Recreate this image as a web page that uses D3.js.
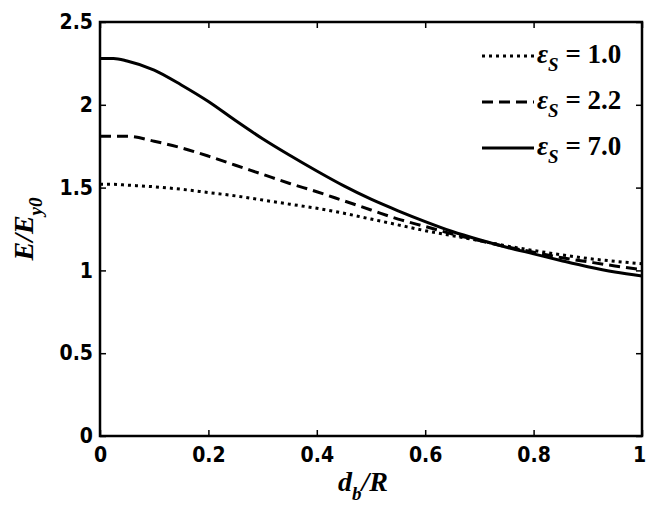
<!DOCTYPE html>
<meta charset="utf-8">
<title>E/Ey0 vs db/R</title>
<style>
body { margin: 0; background: #fff; }
svg { display: block; }
.tick text { font-family: "Liberation Sans Narrow", "DejaVu Sans Condensed", "Liberation Sans", Arial, sans-serif; font-weight: bold; font-size: 21px; fill: #000; }
.tick line { stroke: #000; stroke-width: 1.5; }
.lbl { font-family: "Liberation Serif", "Times New Roman", serif; font-weight: bold; font-style: italic; fill: #000; }
.leg { font-family: "Liberation Serif", "Times New Roman", serif; font-weight: bold; font-size: 27px; fill: #000; }
.curve { fill: none; stroke: #000; stroke-width: 3; }
</style>
<body>
<svg width="647" height="508"></svg>
<script src="https://d3js.org/d3.v7.min.js"></script>
<script>

// data
var xVals = [0, 0.025, 0.05, 0.1, 0.15, 0.2, 0.25, 0.3, 0.35, 0.4, 0.45, 0.5, 0.55, 0.6, 0.65, 0.7, 0.75, 0.8, 0.85, 0.9, 0.95, 1.0];
var eps10 = [1.52, 1.52, 1.515, 1.505, 1.49, 1.47, 1.45, 1.425, 1.40, 1.375, 1.345, 1.31, 1.275, 1.24, 1.21, 1.18, 1.148, 1.12, 1.095, 1.072, 1.055, 1.04];
var eps22 = [1.81, 1.81, 1.81, 1.78, 1.74, 1.69, 1.635, 1.58, 1.525, 1.475, 1.42, 1.365, 1.31, 1.265, 1.22, 1.18, 1.143, 1.11, 1.078, 1.052, 1.027, 1.005];
var eps70 = [2.28, 2.28, 2.265, 2.21, 2.12, 2.02, 1.905, 1.795, 1.695, 1.60, 1.51, 1.43, 1.36, 1.295, 1.235, 1.185, 1.14, 1.10, 1.06, 1.022, 0.99, 0.966];
var seriesNames = ["1.0", "2.2", "7.0"];
var xTicks = [0, 0.2, 0.4, 0.6, 0.8, 1];
var xTickLabels = ["0", "0.2", "0.4", "0.6", "0.8", "1"];
var yTicks = [0, 0.5, 1, 1.5, 2, 2.5];
var yTickLabels = ["0", "0.5", "1", "1.5", "2", "2.5"];

var svg = d3.select("svg"),
    margin = {top: 22, right: 5, bottom: 72, left: 100},
    width = +svg.attr("width") - margin.left - margin.right,
    height = +svg.attr("height") - margin.top - margin.bottom;

var x = d3.scaleLinear().domain([0, 1]).range([margin.left, margin.left + width]);
var y = d3.scaleLinear().domain([0, 2.5]).range([margin.top + height, margin.top]);

var dashes = ["3,4", "11,6", null];
var series = [eps10, eps22, eps70];

// axes, ticks pointing inwards
svg.append("g")
    .attr("transform", "translate(0," + y(0) + ")")
    .call(d3.axisBottom(x).tickValues(xTicks).tickSizeInner(-6).tickSizeOuter(0).tickPadding(11)
        .tickFormat(function(d, i) { return xTickLabels[i]; }))
    .call(function(g) { g.select(".domain").remove(); })
    .call(function(g) { g.selectAll(".tick:last-of-type text").attr("dx", -3); });
svg.append("g")
    .attr("transform", "translate(0," + y(2.5) + ")")
    .call(d3.axisTop(x).tickValues(xTicks).tickSizeInner(-6).tickSizeOuter(0).tickFormat(""))
    .call(function(g) { g.select(".domain").remove(); });
svg.append("g")
    .attr("transform", "translate(" + x(0) + ",0)")
    .call(d3.axisLeft(y).tickValues(yTicks).tickSizeInner(-6).tickSizeOuter(0).tickPadding(7)
        .tickFormat(function(d, i) { return yTickLabels[i]; }))
    .call(function(g) { g.select(".domain").remove(); });
svg.append("g")
    .attr("transform", "translate(" + x(1) + ",0)")
    .call(d3.axisRight(y).tickValues(yTicks).tickSizeInner(-6).tickSizeOuter(0).tickFormat(""))
    .call(function(g) { g.select(".domain").remove(); });

// curves
var line = d3.line()
    .x(function(d, i) { return x(xVals[i]); })
    .y(function(d) { return y(d); })
    .curve(d3.curveMonotoneX);

series.forEach(function(s, k) {
    svg.append("path")
        .attr("class", "curve")
        .attr("d", line(s))
        .attr("stroke-dasharray", dashes[k]);
});

// box
svg.append("rect")
    .attr("x", x(0)).attr("y", y(2.5))
    .attr("width", x(1) - x(0)).attr("height", y(0) - y(2.5))
    .attr("fill", "none").attr("stroke", "#000").attr("stroke-width", 2.5);

// legend
var legY = [63, 109, 155];
seriesNames.forEach(function(n, k) {
    svg.append("line")
        .attr("class", "curve")
        .attr("x1", 482).attr("x2", 534)
        .attr("y1", legY[k] - 7).attr("y2", legY[k] - 7)
        .attr("stroke-dasharray", dashes[k]);
    var t = svg.append("text").attr("class", "leg").attr("x", 537).attr("y", legY[k]);
    t.append("tspan").style("font-style", "italic").text("ε");
    t.append("tspan").style("font-style", "italic").style("font-size", "19px").attr("dy", 8).text("S");
    t.append("tspan").attr("dy", -8).text(" = " + n);
});

// axis labels
var xl = svg.append("text").attr("class", "lbl")
    .attr("x", (x(0) + x(1)) / 2 - 8).attr("y", 491)
    .attr("text-anchor", "middle").style("font-size", "28px");
xl.append("tspan").text("d");
xl.append("tspan").style("font-size", "19px").attr("dy", 9).text("b");
xl.append("tspan").attr("dy", -9).text("/R");

var yl = svg.append("text").attr("class", "lbl")
    .attr("transform", "translate(33," + ((y(0) + y(2.5)) / 2) + ") rotate(-90)")
    .attr("text-anchor", "middle").style("font-size", "28px");
yl.append("tspan").text("E/E");
yl.append("tspan").style("font-size", "19px").attr("dy", 9).text("y0");

</script>
</body>
